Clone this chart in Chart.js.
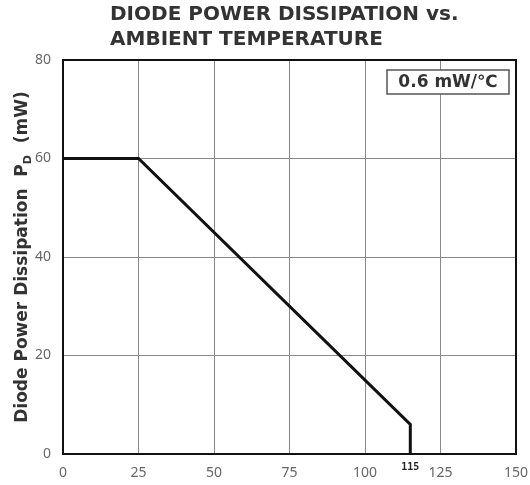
<!DOCTYPE html>
<html>
<head>
<meta charset="utf-8">
<script src="https://cdn.jsdelivr.net/npm/chart.js@4"></script>
<style>
  html, body { margin: 0; padding: 0; background: #fff; }
  #wrap { width: 530px; height: 485px; }
</style>
</head>
<body>
<div id="wrap"><canvas id="chart" width="530" height="485"></canvas></div>
<script>
// derating curve
const tempC = [0, 25, 115, 115];
const powerMW = [60, 60, 6, 0];
const xTicks = [0, 25, 50, 75, 100, 125, 150];
const yTicks = [0, 20, 40, 60, 80];
const titleLines = ['DIODE POWER DISSIPATION vs.', 'AMBIENT TEMPERATURE'];
const yTitle = ['Diode Power Dissipation  P', 'D', '  (mW)'];
const boxText = '0.6 mW/\u2103';
const markTicks = [115];

const extras = {
  id: 'extras',
  beforeDraw(chart) {
    const ctx = chart.ctx;
    ctx.save();
    ctx.fillStyle = '#fff';
    ctx.fillRect(0, 0, chart.width, chart.height);
    ctx.restore();
  },
  afterDraw(chart) {
    const ctx = chart.ctx;
    const a = chart.chartArea;
    const xs = chart.scales.x;
    ctx.save();
    // frame
    ctx.strokeStyle = '#111';
    ctx.lineWidth = 2;
    ctx.strokeRect(a.left, a.top, a.right - a.left, a.bottom - a.top);

    // title
    ctx.fillStyle = '#333';
    ctx.font = 'bold 20px "DejaVu Sans"';
    ctx.textAlign = 'left';
    ctx.textBaseline = 'middle';
    ctx.fillText(titleLines[0], 110, 15);
    ctx.fillText(titleLines[1], 110, 40);

    // box note
    ctx.strokeStyle = '#555';
    ctx.lineWidth = 1.5;
    ctx.fillStyle = '#fff';
    ctx.fillRect(387, 70, 122, 24);
    ctx.strokeRect(387, 70, 122, 24);
    ctx.fillStyle = '#333';
    ctx.font = 'bold 17px "DejaVu Sans"';
    ctx.textAlign = 'center';
    ctx.fillText(boxText, 448, 83);

    // 115 marker label
    ctx.font = 'bold 10px "DejaVu Sans Mono"';
    ctx.fillStyle = '#222';
    markTicks.forEach(v => ctx.fillText(String(v), xs.getPixelForValue(v), 467));

    // y title with subscript
    ctx.translate(23, 257);
    ctx.rotate(-Math.PI / 2);
    ctx.fillStyle = '#333';
    const big = 'bold 17px "DejaVu Sans"';
    const small = 'bold 11px "DejaVu Sans"';
    ctx.font = big;
    const w0 = ctx.measureText(yTitle[0]).width;
    const w2 = ctx.measureText(yTitle[2]).width;
    ctx.font = small;
    const w1 = ctx.measureText(yTitle[1]).width;
    let x = -(w0 + w1 + w2) / 2;
    ctx.textAlign = 'left';
    ctx.font = big;
    ctx.fillText(yTitle[0], x, 0);
    x += w0;
    ctx.font = small;
    ctx.fillText(yTitle[1], x, 5);
    x += w1;
    ctx.font = big;
    ctx.fillText(yTitle[2], x, 0);
    ctx.restore();
  }
};

new Chart(document.getElementById('chart'), {
  type: 'line',
  data: {
    datasets: [{
      data: tempC.map((t, i) => ({ x: t, y: powerMW[i] })),
      borderColor: '#111',
      borderWidth: 3,
      pointRadius: 0,
      fill: false,
      tension: 0
    }]
  },
  options: {
    responsive: false,
    animation: false,
    layout: { padding: { left: 0, top: 60, right: 14, bottom: 0 } },
    plugins: {
      legend: { display: false },
      tooltip: { enabled: false },
      title: { display: false }
    },
    scales: {
      x: {
        type: 'linear',
        min: 0,
        max: 150,
        afterBuildTicks(s) { s.ticks = xTicks.map(v => ({ value: v })); },
        afterFit(s) { s.height = 31; s.paddingLeft = 0; s.paddingRight = 0; },
        grid: { color: '#888', lineWidth: 1, drawTicks: false },
        border: { display: false },
        ticks: { color: '#666', font: { family: 'Noto Sans', size: 14 }, padding: 11, maxRotation: 0 }
      },
      y: {
        min: 0,
        max: 80,
        afterBuildTicks(s) { s.ticks = yTicks.map(v => ({ value: v })); },
        afterFit(s) { s.width = 63; },
        grid: { color: '#888', lineWidth: 1, drawTicks: false },
        border: { display: false },
        ticks: { color: '#666', font: { family: 'Noto Sans', size: 14 }, padding: 12 }
      }
    }
  },
  plugins: [extras]
});
</script>
</body>
</html>
